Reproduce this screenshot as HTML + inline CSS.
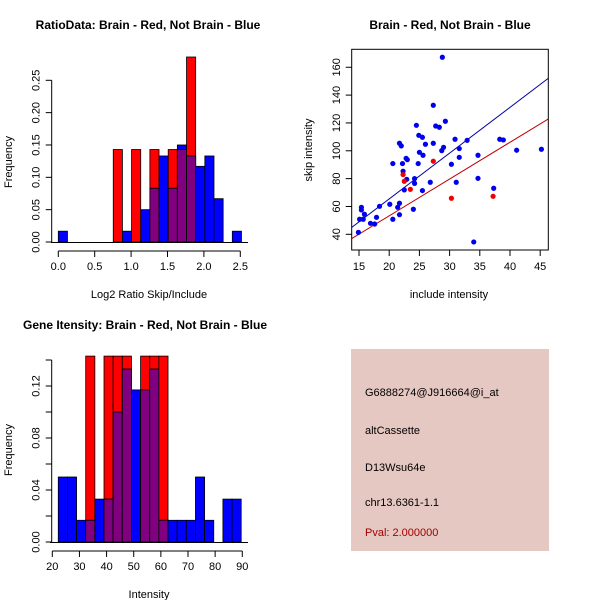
<!DOCTYPE html>
<html><head><meta charset="utf-8"><style>
body{margin:0;background:#fff;}
svg{display:block;font-family:"Liberation Sans",sans-serif;}
</style></head><body>
<svg id="s" width="600" height="600" viewBox="0 0 600 600">
<rect width="600" height="600" fill="#fff"/>
<text x="148" y="29" font-size="12" font-weight="bold" text-anchor="middle">RatioData: Brain - Red, Not Brain - Blue</text>
<text x="450" y="29" font-size="12" font-weight="bold" text-anchor="middle">Brain - Red, Not Brain - Blue</text>
<text x="145" y="329" font-size="12" font-weight="bold" text-anchor="middle">Gene Itensity: Brain - Red, Not Brain - Blue</text>
<text x="149" y="298" font-size="11" text-anchor="middle">Log2 Ratio Skip/Include</text>
<text x="12" y="162" font-size="11" text-anchor="middle" transform="rotate(-90 12 162)">Frequency</text>
<text x="449" y="298" font-size="11" text-anchor="middle">include intensity</text>
<text x="312" y="150" font-size="11" text-anchor="middle" transform="rotate(-90 312 150)">skip intensity</text>
<text x="149" y="598" font-size="11" text-anchor="middle">Intensity</text>
<text x="12" y="450" font-size="11" text-anchor="middle" transform="rotate(-90 12 450)">Frequency</text>
<g>
<rect x="351" y="349" width="198" height="202" fill="#e6c8c2"/>
<text x="365" y="396" font-size="11">G6888274@J916664@i_at</text>
<text x="365" y="434" font-size="11">altCassette</text>
<text x="365" y="471" font-size="11">D13Wsu64e</text>
<text x="365" y="506" font-size="11">chr13.6361-1.1</text>
<text x="365" y="536" font-size="11" fill="#a00000">Pval: 2.000000</text>
</g>
</svg>
<script>
// ratio histogram
const ratioRed=[0,0,0,0,0,0,0.143,0,0.143,0,0.143,0,0.143,0.143,0.286,0,0,0,0,0];
const ratioBlue=[0.0167,0,0,0,0,0,0,0.0167,0,0.05,0.083,0.133,0.083,0.15,0.133,0.117,0.133,0.067,0,0.0167];
const ratioTicksX=[0,0.5,1.0,1.5,2.0,2.5];
const ratioTicksY=[0,0.05,0.10,0.15,0.20,0.25];
// intensity histogram
const intRed=[0,0,0,0.143,0,0.143,0.143,0.143,0,0.143,0.143,0.143,0,0,0,0,0,0,0,0];
const intBlue=[0.05,0.05,0.0167,0.0167,0.033,0.033,0.1,0.133,0.117,0.117,0.133,0.0167,0.0167,0.0167,0.0167,0.05,0.0167,0,0.033,0.033];
const intTicksX=[20,30,40,50,60,70,80,90];
const intTicksY=[0,0.02,0.04,0.06,0.08,0.10,0.12,0.14];
// scatter
const blueX=[28.8,27.3,29.3,24.5,27.7,28.3,24.9,25.5,21.7,22.0,26.0,27.3,30.9,32.9,38.3,38.9,29.0,28.7,31.6,41.1,45.2,25.0,25.6,34.7,31.6,22.8,23.0,20.6,22.2,24.8,30.3,22.3,26.8,31.1,22.9,24.2,24.2,22.5,25.5,34.7,37.3,15.4,15.4,15.9,18.4,20.1,21.7,21.4,21.7,24.0,17.9,15.1,15.7,20.6,16.9,17.6,14.9,34.0];
const blueY=[167.2,132.7,121.2,118.3,117.8,116.9,111.1,109.7,105.4,103.5,104.7,105.4,108.3,107.5,108.3,107.8,102.5,100.1,101.6,100.4,101.1,98.9,96.8,96.8,95.3,94.6,93.6,90.8,90.8,90.8,90.3,85.3,77.4,77.4,79.5,80.0,76.6,71.9,71.4,80.2,73.1,59.4,57.5,54.4,60.1,61.6,62.3,59.4,54.1,58.0,52.2,50.8,50.8,50.8,47.9,47.4,41.4,34.5];
const redX=[27.3,22.3,22.5,23.5,30.3,37.2];
const redY=[92.5,82.9,78.1,72.3,65.9,67.3];
const fitBlue=[-0.4,3.29];
const fitRed=[0.5,2.64];
const scTicksX=[15,20,25,30,35,40,45];
const scTicksY=[40,60,80,100,120,140,160];

const S=document.getElementById('s');
const NS='http://www.w3.org/2000/svg';
function mk(tag,attrs,name){const e=document.createElementNS(NS,tag);for(const k in attrs)e.setAttribute(k,attrs[k]);


S.appendChild(e);return e;}
function txt(x,y,t,name,rot){const e=mk('text',{x:x,y:y,'font-size':11,'text-anchor':'middle'},name);if(rot)e.setAttribute('transform','rotate(-90 '+x+' '+y+')');e.textContent=t;return e;}

function hist(red,blue,x0,w,sx,sy,prefix){
  for(let i=0;i<red.length;i++){
    const xa=sx(x0+i*w),xb=sx(x0+(i+1)*w);
    const r=red[i],b=blue[i],m=Math.min(r,b);
    if(r>0)mk('rect',{x:xa,y:sy(r),width:xb-xa,height:sy(0)-sy(r),fill:'#ff0000',stroke:'#000','stroke-width':0.8},prefix+'-red-bar');
    if(b>0)mk('rect',{x:xa,y:sy(b),width:xb-xa,height:sy(0)-sy(b),fill:'#0000ff',stroke:'#000','stroke-width':0.8},prefix+'-blue-bar');
    if(m>0)mk('rect',{x:xa,y:sy(m),width:xb-xa,height:sy(0)-sy(m),fill:'#800080',stroke:'#000','stroke-width':0.8},prefix+'-overlap-bar');
  }
}
function axes(ticksX,ticksY,sx,sy,xAxisY,yAxisX,prefix,labelY,fmtY,labelEvery){
  mk('line',{x1:sx(ticksX[0]),x2:sx(ticksX[ticksX.length-1]),y1:xAxisY,y2:xAxisY,stroke:'#000'},prefix+'-x-axis');
  ticksX.forEach(t=>{mk('line',{x1:sx(t),x2:sx(t),y1:xAxisY,y2:xAxisY+6,stroke:'#000'},prefix+'-x-tick');txt(sx(t),xAxisY+19,String(t.toFixed?(Number.isInteger(t)&&prefix!=='ratio'?t:t.toFixed(1)):t),prefix+'-x-tick-label');});
  mk('line',{x1:yAxisX,x2:yAxisX,y1:sy(ticksY[0]),y2:sy(ticksY[ticksY.length-1]),stroke:'#000'},prefix+'-y-axis');
  ticksY.forEach((t,i)=>{mk('line',{x1:yAxisX-6,x2:yAxisX,y1:sy(t),y2:sy(t),stroke:'#000'},prefix+'-y-tick');
    if(i%labelEvery===0)txt(yAxisX-12,sy(t),fmtY(t),prefix+'-y-tick-label',true);});
}
// ratio
{const sx=v=>58.3+v*72.8, sy=v=>242-v*646.8;
 hist(ratioRed,ratioBlue,0,0.1258,sx,sy,'ratio');
 mk('line',{x1:51,x2:248,y1:242.5,y2:242.5,stroke:'#000'},'ratio-baseline');
 axes(ratioTicksX,ratioTicksY,sx,sy,251,51.7,'ratio',0,t=>t.toFixed(2),1);}
// intensity
{const sx=v=>52.3+(v-20)*2.714, sy=v=>542-v*1300;
 hist(intRed,intBlue,22.2,3.37,sx,sy,'intensity');
 mk('line',{x1:50,x2:248,y1:542.5,y2:542.5,stroke:'#000'},'intensity-baseline');
 axes(intTicksX,intTicksY,sx,sy,551,51.7,'intensity',0,t=>t.toFixed(2),2);}
// scatter
{const sx=v=>359+(v-15)*6.04, sy=v=>234.3-(v-40)*1.392;
 const L=13.8,R=46.35;
 mk('line',{x1:sx(L),y1:sy(fitBlue[0]+fitBlue[1]*L),x2:sx(R),y2:sy(fitBlue[0]+fitBlue[1]*R),stroke:'#0000a0'},'blue-fit-line');
 mk('line',{x1:sx(L),y1:sy(fitRed[0]+fitRed[1]*L),x2:sx(R),y2:sy(fitRed[0]+fitRed[1]*R),stroke:'#c00000'},'red-fit-line');
 blueX.forEach((x,i)=>mk('circle',{cx:sx(x),cy:sy(blueY[i]),r:2.6,fill:'#0000ee'},'blue-point'));
 redX.forEach((x,i)=>mk('circle',{cx:sx(x),cy:sy(redY[i]),r:2.6,fill:'#ee0000'},'red-point'));
 mk('rect',{x:351.7,y:49.3,width:196.6,height:200.7,fill:'none',stroke:'#000'},'scatter-frame');
 scTicksX.forEach(t=>{mk('line',{x1:sx(t),x2:sx(t),y1:250,y2:256,stroke:'#000'},'scatter-x-tick');txt(sx(t),270,String(t),'scatter-x-tick-label');});
 scTicksY.forEach(t=>{mk('line',{x1:345.7,x2:351.7,y1:sy(t),y2:sy(t),stroke:'#000'},'scatter-y-tick');txt(340,sy(t),String(t),'scatter-y-tick-label',true);});}
</script>
</body></html>
